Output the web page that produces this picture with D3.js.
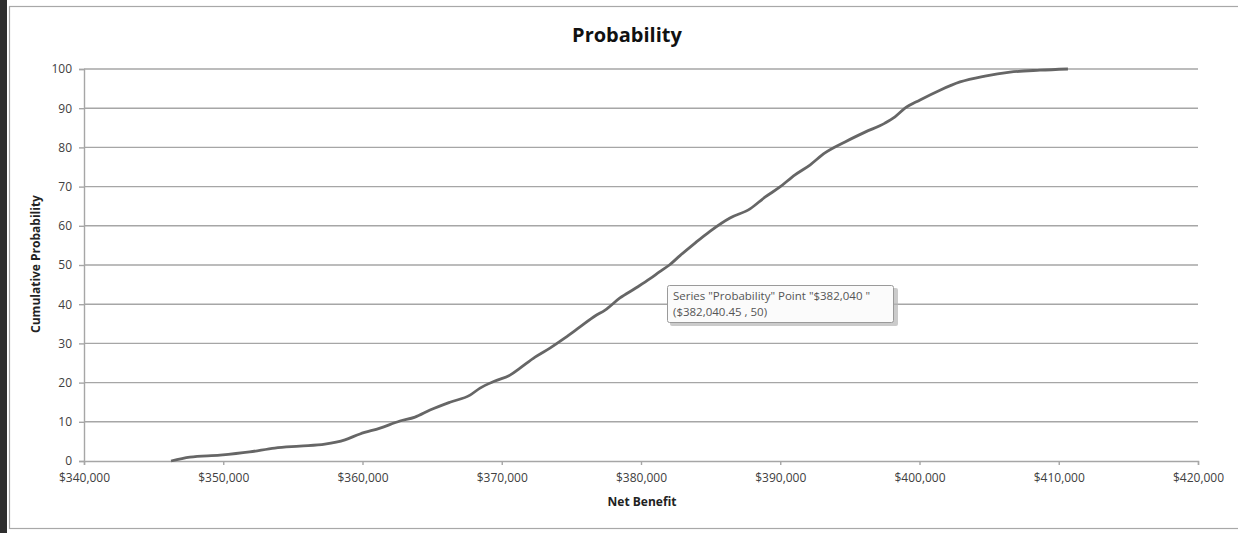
<!DOCTYPE html>
<html>
<head>
<meta charset="utf-8">
<script src="https://cdn.jsdelivr.net/npm/d3@7"></script>
<style>
  html, body { margin: 0; padding: 0; background: #fff; }
  svg { display: block; }
</style>
</head>
<body>
<svg id="chart" width="1238" height="533"></svg>
<script>
// Net benefit (USD) and cumulative probability (%) along the S-curve
const netBenefit = [346250, 347600, 349770, 351900, 353700, 355500, 357300, 358740, 359820,
  361260, 362690, 363770, 364850, 366280, 367720, 368440, 369510, 370590, 371310, 372390,
  373460, 374540, 375620, 376700, 377420, 378490, 379570, 380650, 381350, 382040, 382800, 383880,
  384950, 386390, 387830, 388900, 389980, 391060, 392130, 393210, 394650, 396090, 397520,
  398240, 398960, 400040, 401470, 402910, 404700, 406500, 408650, 410660];
const cumProb = [0, 1.0, 1.5, 2.3, 3.3, 3.8, 4.3, 5.4, 6.9,
  8.4, 10.2, 11.2, 13.0, 15.0, 16.8, 18.6, 20.4, 21.9, 23.7, 26.5,
  28.8, 31.4, 34.2, 37.0, 38.5, 41.6, 44.0, 46.5, 48.3, 50.0, 52.4, 55.6,
  58.6, 62.0, 64.3, 67.3, 69.9, 73.0, 75.5, 78.6, 81.4, 83.9, 86.2,
  87.8, 90.0, 92.1, 94.6, 96.7, 98.2, 99.2, 99.7, 100];
const xTicks = [340000, 350000, 360000, 370000, 380000, 390000, 400000, 410000, 420000];
const yTicks = [0, 10, 20, 30, 40, 50, 60, 70, 80, 90, 100];
const tipLines = ['Series "Probability" Point "$382,040 "', '($382,040.45 , 50)'];

const svg = d3.select("#chart");
const font = "'Open Sans', 'DejaVu Sans', sans-serif";

// outer window edge and chart frame
svg.append("rect").attr("x", 0).attr("y", 0).attr("width", 7).attr("height", 533).attr("fill", "#2e2e2e");
svg.append("rect").attr("x", 9.5).attr("y", 6.5).attr("width", 1240).attr("height", 522)
  .attr("fill", "#fff").attr("stroke", "#a8a8a8").attr("stroke-width", 1.2);

const x = d3.scaleLinear().domain([340000, 420000]).range([84, 1198]);
const y = d3.scaleLinear().domain([0, 100]).range([461, 69]);

// horizontal gridlines
svg.append("g").selectAll("line").data(yTicks.filter(d => d > 0)).join("line")
  .attr("x1", x(340000)).attr("x2", x(420000))
  .attr("y1", d => y(d)).attr("y2", d => y(d))
  .attr("stroke", "#a6a6a6").attr("stroke-width", 1.4);

// y axis
const yAxis = svg.append("g").attr("transform", `translate(${x(340000)},0)`)
  .call(d3.axisLeft(y).tickValues(yTicks).tickSize(5).tickPadding(7));
yAxis.select(".domain").attr("stroke", "#a6a6a6").attr("stroke-width", 1.4);
yAxis.selectAll(".tick line").attr("stroke", "#a6a6a6").attr("stroke-width", 1.4);
yAxis.selectAll("text").attr("font-family", font).attr("font-size", 12).attr("fill", "#404040");

// x axis
const xAxis = svg.append("g").attr("transform", `translate(0,${y(0)})`)
  .call(d3.axisBottom(x).tickValues(xTicks).tickSize(4).tickPadding(8)
    .tickFormat(d => "$" + d3.format(",")(d)));
xAxis.select(".domain").attr("stroke", "#a6a6a6").attr("stroke-width", 1.4);
xAxis.selectAll(".tick line").attr("stroke", "#a6a6a6").attr("stroke-width", 1.4);
xAxis.selectAll("text").attr("font-family", font).attr("font-size", 12).attr("fill", "#404040");

// cumulative probability curve
const pts = netBenefit.map((v, i) => [v, cumProb[i]]);
svg.append("path").datum(pts)
  .attr("d", d3.line().x(d => x(d[0])).y(d => y(d[1])).curve(d3.curveMonotoneX))
  .attr("fill", "none").attr("stroke", "#666").attr("stroke-width", 2.8)
  .attr("stroke-linejoin", "round");

// titles
svg.append("text").attr("x", 627).attr("y", 42).attr("text-anchor", "middle")
  .attr("font-family", font).attr("font-weight", "bold").attr("font-size", 20)
  .attr("fill", "#111").text("Probability");
svg.append("text").attr("x", 642).attr("y", 506).attr("text-anchor", "middle")
  .attr("font-family", font).attr("font-weight", "bold").attr("font-size", 12)
  .attr("fill", "#222").text("Net Benefit");
svg.append("text").attr("transform", "translate(40,264) rotate(-90)").attr("text-anchor", "middle")
  .attr("font-family", font).attr("font-weight", "bold").attr("font-size", 12)
  .attr("fill", "#222").text("Cumulative Probability");

// hover tooltip on the 50% point
const tip = svg.append("g");
tip.append("rect").attr("x", 670).attr("y", 288).attr("width", 228).attr("height", 38)
  .attr("fill", "#b5b5b5").attr("opacity", 0.7).attr("rx", 2);
tip.append("rect").attr("x", 667.5).attr("y", 285.5).attr("width", 226).attr("height", 37)
  .attr("fill", "#fbfbfb").attr("stroke", "#9a9a9a").attr("rx", 2);
tip.selectAll("text").data(tipLines).join("text")
  .attr("x", 673).attr("y", (d, i) => 300 + i * 16)
  .attr("font-family", font).attr("font-size", 11.5).attr("fill", "#555").text(d => d);
</script>
</body>
</html>
